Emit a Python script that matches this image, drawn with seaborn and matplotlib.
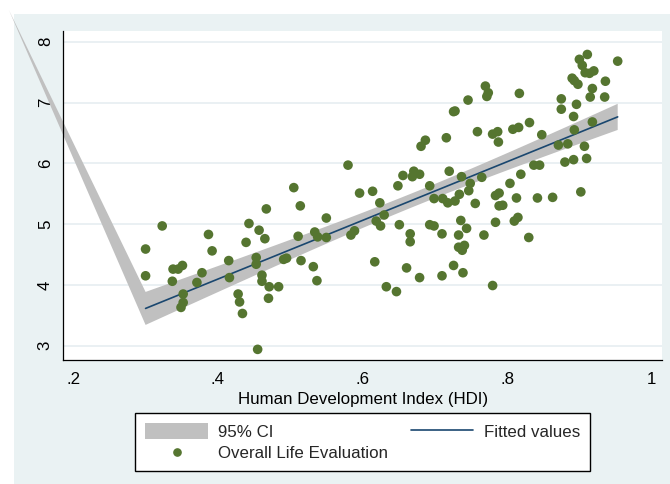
import numpy as np
import matplotlib
matplotlib.use("Agg")
import matplotlib.pyplot as plt
from matplotlib.patches import Rectangle, Patch
from matplotlib.lines import Line2D
import seaborn as sns

# Human Development Index and Overall Life Evaluation by country
hdi = [
    0.300, 0.300, 0.323, 0.338, 0.345, 0.351, 0.337, 0.352, 0.352, 0.349,
    0.371, 0.378, 0.387, 0.392, 0.415, 0.416, 0.428, 0.430, 0.434, 0.443,
    0.439, 0.457, 0.465, 0.467, 0.453, 0.453, 0.461, 0.461, 0.471, 0.470,
    0.484, 0.455, 0.505, 0.514, 0.511, 0.491, 0.495, 0.515, 0.532, 0.537,
    0.534, 0.538, 0.550, 0.550, 0.580, 0.584, 0.589, 0.596, 0.614, 0.624,
    0.630, 0.619, 0.625, 0.617, 0.633, 0.647, 0.649, 0.656, 0.671, 0.669,
    0.679, 0.651, 0.666, 0.666, 0.661, 0.679, 0.693, 0.699, 0.693, 0.699,
    0.710, 0.710, 0.681, 0.687, 0.716, 0.728, 0.726, 0.720, 0.711, 0.718,
    0.728, 0.734, 0.737, 0.736, 0.733, 0.733, 0.738, 0.741, 0.726, 0.739,
    0.746, 0.770, 0.774, 0.772, 0.817, 0.759, 0.780, 0.787, 0.788, 0.808,
    0.816, 0.831, 0.848, 0.765, 0.749, 0.747, 0.756, 0.784, 0.789, 0.789,
    0.794, 0.804, 0.813, 0.819, 0.837, 0.845, 0.842, 0.863, 0.902, 0.744,
    0.768, 0.784, 0.810, 0.815, 0.830, 0.780, 0.871, 0.884, 0.880, 0.892,
    0.910, 0.907, 0.893, 0.918, 0.892, 0.875, 0.875, 0.896, 0.915, 0.935,
    0.918, 0.936, 0.890, 0.893, 0.898, 0.908, 0.914, 0.920, 0.900, 0.904,
    0.911, 0.953,
]
life_eval = [
    4.59, 4.15, 4.97, 4.26, 4.26, 4.32, 4.06, 3.85, 3.71, 3.63,
    4.04, 4.20, 4.83, 4.56, 4.40, 4.12, 3.85, 3.72, 3.53, 5.01,
    4.70, 4.90, 4.76, 5.25, 4.45, 4.34, 4.16, 4.06, 3.97, 3.78,
    3.97, 2.94, 5.60, 5.30, 4.80, 4.42, 4.44, 4.40, 4.30, 4.07,
    4.87, 4.79, 5.10, 4.78, 5.97, 4.82, 4.89, 5.51, 5.54, 5.35,
    5.15, 5.05, 4.97, 4.38, 3.97, 3.89, 5.63, 5.80, 5.87, 5.78,
    5.82, 4.99, 4.84, 4.71, 4.28, 4.12, 5.63, 5.42, 4.99, 4.97,
    4.84, 4.15, 6.28, 6.38, 6.42, 6.86, 6.85, 5.87, 5.42, 5.35,
    5.38, 5.49, 5.78, 5.06, 4.82, 4.62, 4.57, 4.65, 4.32, 4.20,
    7.04, 7.27, 7.16, 7.10, 7.15, 6.52, 6.48, 6.52, 6.35, 6.56,
    6.59, 6.67, 6.47, 5.77, 5.67, 5.55, 5.34, 5.47, 5.51, 5.30,
    5.31, 5.67, 5.43, 5.82, 5.97, 5.97, 5.43, 5.44, 5.53, 4.93,
    4.82, 5.03, 5.05, 5.11, 4.78, 3.99, 6.30, 6.32, 6.02, 6.06,
    6.08, 6.28, 6.55, 6.68, 6.77, 6.89, 7.06, 6.97, 7.09, 7.09,
    7.23, 7.35, 7.40, 7.36, 7.30, 7.49, 7.48, 7.52, 7.71, 7.61,
    7.79, 7.68,
]

x_ticks = [0.2, 0.4, 0.6, 0.8, 1.0]
x_tick_labels = [".2", ".4", ".6", ".8", "1"]
y_ticks = [3, 4, 5, 6, 7, 8]
legend_labels = ["95% CI", "Overall Life Evaluation", "Fitted values"]

# stray closing vertex of the CI area polygon
ci_polygon_tail = (0.111, 8.52)

GREEN = "#557530"
NAVY = "#1a476f"
CI_GRAY = "#c0c0c0"
REGION = "#eaf2f3"
GRID = "#e6eef1"

sns.set_theme(style="white")
plt.rcParams["font.family"] = ["Liberation Sans", "DejaVu Sans"]

W, H = 670, 484
fig = plt.figure(figsize=(W / 100, H / 100), dpi=100)
fig.patch.set_facecolor("white")
fig.patches.append(Rectangle((14 / W, 0), 1 - 14 / W, 1 - 14 / H,
                             transform=fig.transFigure, facecolor=REGION,
                             edgecolor="none", zorder=-10))

ax = fig.add_axes([63.3 / W, 1 - 360 / H, (662.3 - 63.3) / W, (360 - 31) / H])
ax.set_facecolor("white")

# linear fit with 95% confidence interval of the mean
x = np.asarray(hdi)
y = np.asarray(life_eval)
n = len(x)
slope, intercept = np.polyfit(x, y, 1)
resid = y - (intercept + slope * x)
s = np.sqrt(np.sum(resid ** 2) / (n - 2))
xg = np.linspace(x.min(), x.max(), 100)
yg = intercept + slope * xg
se = s * np.sqrt(1 / n + (xg - x.mean()) ** 2 / np.sum((x - x.mean()) ** 2))
t_crit = 1.976
lo, hi = yg - t_crit * se, yg + t_crit * se

poly_x = np.concatenate([xg, xg[::-1], [ci_polygon_tail[0]]])
poly_y = np.concatenate([hi, lo[::-1], [ci_polygon_tail[1]]])
ax.fill(poly_x, poly_y, color=CI_GRAY, lw=0, clip_on=False, zorder=1)

sns.lineplot(x=xg, y=yg, color=NAVY, lw=1.2, ax=ax, zorder=2)
sns.scatterplot(x=hdi, y=life_eval, color=GREEN, s=48, edgecolor="none",
                linewidth=0, ax=ax, zorder=3)

ax.set_xlim(0.1862, 1.0147)
ax.set_ylim(2.765, 8.176)
ax.set_xticks(x_ticks)
ax.set_xticklabels(x_tick_labels)
ax.set_yticks(y_ticks)
ax.set_yticklabels([str(v) for v in y_ticks], rotation=90, va="center")
ax.tick_params(axis="both", direction="out", length=5, width=0.9,
               color="black", labelsize=12.2, labelcolor="black", pad=4)
ax.tick_params(axis="y", pad=2.5)
ax.yaxis.grid(True, color=GRID, lw=1.2)
ax.set_axisbelow(True)
for side in ["top", "right"]:
    ax.spines[side].set_visible(False)
for side in ["left", "bottom"]:
    ax.spines[side].set_color("black")
    ax.spines[side].set_linewidth(0.9)

ax.set_xlabel("Human Development Index (HDI)", fontsize=12.2, color="black",
              labelpad=3)
ax.set_ylabel("")

handles = [
    Patch(facecolor=CI_GRAY, edgecolor="none"),
    Line2D([], [], ls="", marker="o", markersize=5.2, color=GREEN),
    Line2D([], [], color=NAVY, lw=1.2),
]
leg = fig.legend(handles, legend_labels, ncol=2, loc="upper left",
                 bbox_to_anchor=(135 / W, 1 - 468.3 / H, 455 / W, 55 / H),
                 mode="expand", frameon=True, fancybox=False,
                 edgecolor="black", framealpha=1, facecolor="white",
                 fontsize=12.2, handlelength=3.7, handleheight=1.0,
                 handletextpad=0.6, labelspacing=0.3, borderpad=0.6,
                 borderaxespad=0)
leg.get_frame().set_linewidth(1.0)

fig.savefig("out.png", dpi=100)
